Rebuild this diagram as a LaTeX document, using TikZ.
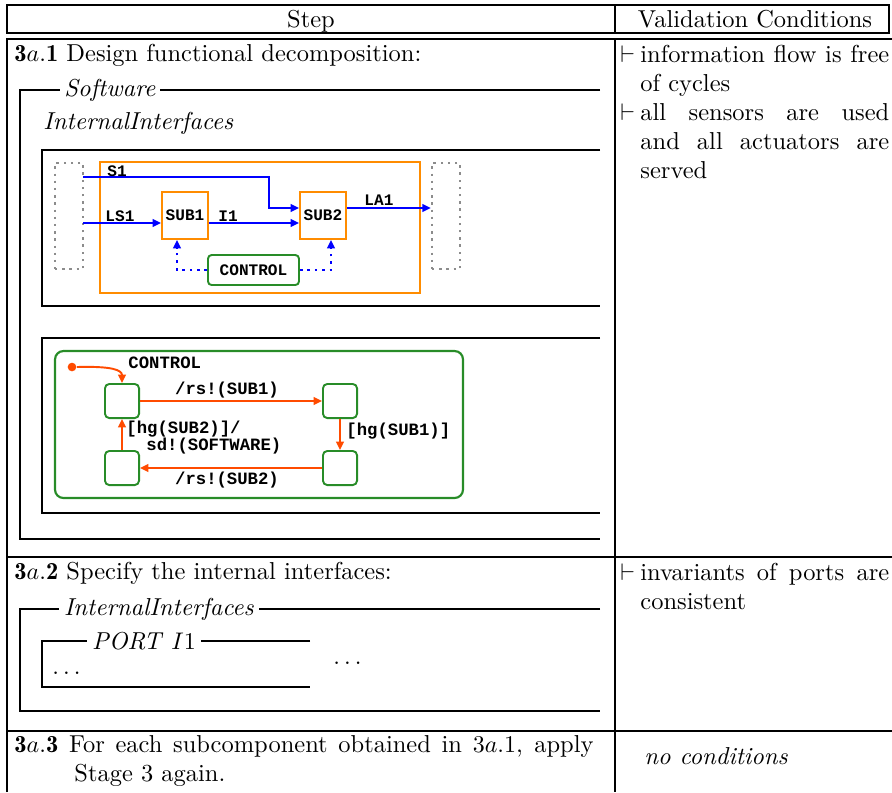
\documentclass[tikz,border=0pt]{standalone}
\usepackage{fontspec}
\newfontfamily\codefont{Liberation Mono}
\usetikzlibrary{arrows.meta, calc}
\definecolor{flowblue}{RGB}{0,0,255}
\definecolor{suborange}{RGB}{255,140,0}
\definecolor{ctrlgreen}{RGB}{40,140,40}
\definecolor{transred}{RGB}{255,75,0}
\definecolor{envgray}{RGB}{140,140,140}

\newcommand{\stepno}[1]{$\mathbf{3}a\mathbf{.#1}$}
\newcommand{\cond}[1]{\hangindent=8.3pt\hangafter=1\noindent\makebox[8.3pt][l]{$\vdash$}#1\par}

\begin{document}
\begin{tikzpicture}[x=0.4167pt, y=-0.4167pt,
    font=\fontsize{10.2}{12.1}\selectfont,
    >={Triangle[length=3.5pt, width=3.2pt]},
    rule/.style={line width=1.1pt},
    schema/.style={line width=0.85pt},
    schemalabel/.style={fill=white, inner xsep=2pt, inner ysep=1pt},
    txt/.style={inner sep=0pt, anchor=base west},
    condbox/.style={inner sep=0pt, anchor=north west, text width=112pt, align=justify},
    code/.style={inner sep=0pt, font=\codefont\bfseries\fontsize{6.7}{7}\selectfont},
    sccode/.style={inner sep=0pt, font=\codefont\bfseries\fontsize{7.2}{7.2}\selectfont},
    subbox/.style={draw=suborange, line width=0.8pt, minimum width=19.2pt,
                   minimum height=19.6pt, inner sep=0pt},
    env/.style={draw=envgray, dotted, line width=1pt, minimum width=11.7pt,
                minimum height=44.2pt},
    ctrlbox/.style={draw=ctrlgreen, line width=0.8pt, rounded corners=1.5pt,
                    minimum width=37.9pt, minimum height=12.5pt, inner sep=0pt},
    state/.style={draw=ctrlgreen, line width=0.8pt, rounded corners=1.8pt,
                  minimum size=14.2pt, inner sep=0pt},
    flow/.style={->, flowblue, line width=0.8pt},
    ctrlflow/.style={->, flowblue, dotted, line width=1.1pt},
    trans/.style={->, transred, line width=0.8pt}]

\useasboundingbox (0,0) rectangle (892,792);

% ════════════════════════════════════════
%  Table rules
% ════════════════════════════════════════

% Header
\draw[rule] (7,5) rectangle (889,33);
\draw[rule] (615,5) -- (615,33);
\node[anchor=base] (stephead) at (311,27) {Step};
\node[anchor=base] (valhead) at (755,27) {Validation Conditions};

% Body
\draw[rule] (7,792) -- (7,39) -- (892,39);
\draw[rule] (615,39) -- (615,792);
\draw[rule] (7,557) -- (892,557);
\draw[rule] (7,731) -- (892,731);

% ════════════════════════════════════════
%  Step 3a.1
% ════════════════════════════════════════

\node[txt] (step1) at (14,61) {\stepno{1} Design functional decomposition:};

% Software schema
\draw[schema] (600,90) -- (20,90) -- (20,539) -- (600,539);
\node[schemalabel] (swlabel) at (110,90) {\textit{Software}};
\node[txt] (intif) at (43,129) {\textit{InternalInterfaces}};

% Data flow box
\draw[schema] (600,150) -- (42,150) -- (42,306) -- (600,306);

\node[draw=suborange, line width=0.8pt, minimum width=133.3pt,
      minimum height=54.6pt] (swbox) at (260,227.5) {};
\node[env] (envL) at (69,216) {};
\node[env] (envR) at (446,216) {};

\node[subbox, code] (sub1) at (185,215.5) {SUB1};
\node[subbox, code] (sub2) at (323,215.5) {SUB2};
\node[ctrlbox, code] (control) at (253.5,270) {CONTROL};

\coordinate (s1in) at (83,177);
\coordinate (ls1in) at (83,223);
\coordinate (s1bend) at (269,208);

\draw[flow] (s1in) -| (s1bend) -- (sub2.west |- s1bend);
\draw[flow] (ls1in) -- (sub1.west |- ls1in);
\draw[flow] (sub1.east |- ls1in) -- (sub2.west |- ls1in);
\draw[flow] (sub2.east |- s1bend) -- (envR.west |- s1bend);

\node[code, anchor=base west] (s1lab) at (107,176) {S1};
\node[code, anchor=base west] (ls1lab) at (105,221) {LS1};
\node[code, anchor=base west] (i1lab) at (218,221) {I1};
\node[code, anchor=base west] (la1lab) at (364,205) {LA1};

% Control signals
\draw[ctrlflow] (control.west) -| ($(sub1.south)+(-8,0)$);
\draw[ctrlflow] (control.east) -| ($(sub2.south)+(8,0)$);

% Statechart box
\draw[schema] (600,338) -- (42,338) -- (42,513) -- (600,513);

\node[draw=ctrlgreen, line width=0.9pt, rounded corners=3.5pt, minimum width=170pt,
      minimum height=61.25pt] (ctrlchart) at (259,424.5) {};
\node[sccode, anchor=base west] (chartname) at (128,368) {CONTROL};

\node[state] (st1) at (122,401) {};
\node[state] (st2) at (340,401) {};
\node[state] (st3) at (340,468) {};
\node[state] (st4) at (122,468) {};
\node[circle, fill=transred, inner sep=0pt, minimum size=3.6pt] (init) at (72,367) {};

\draw[trans] (init.east) .. controls (112,366) and (122,370) .. (st1.north);
\draw[trans] (st1) -- (st2);
\draw[trans] (st2) -- (st3);
\draw[trans] (st3) -- (st4);
\draw[trans] (st4) -- (st1);

\node[sccode, anchor=base] (rs1lab) at (227,394) {/rs!(SUB1)};
\node[sccode, anchor=base west] (hg1lab) at (346,435) {[hg(SUB1)]};
\node[sccode, anchor=base] (rs2lab) at (227,484) {/rs!(SUB2)};
\node[sccode, anchor=base west] (hg2lab) at (126,433) {[hg(SUB2)]/};
\node[sccode, anchor=base west] (sdlab) at (146,450) {sd!(SOFTWARE)};

% Conditions
\node[condbox] (cond1) at (620,44.3)
    {\cond{information flow is free of cycles}%
     \cond{all sensors are used\linebreak and all actuators are\linebreak served}};

% ════════════════════════════════════════
%  Step 3a.2
% ════════════════════════════════════════

\node[txt] (step2) at (14,579) {\stepno{2} Specify the internal interfaces:};

% InternalInterfaces schema
\draw[schema] (600,609) -- (20,609) -- (20,711) -- (600,711);
\node[schemalabel] (iilabel) at (159,609) {\textit{InternalInterfaces}};

% Port schema
\draw[schema] (310,641) -- (42,641) -- (42,687) -- (310,687);
\node[schemalabel] (portlabel) at (144,641) {\textit{PORT} $I1$};
\node[txt] (portdots) at (52,674) {$\ldots$};
\node[txt] (moredots) at (333,664) {$\ldots$};

\node[condbox] (cond2) at (620,562.3) {\cond{invariants of ports are consistent}};

% ════════════════════════════════════════
%  Step 3a.3
% ════════════════════════════════════════

\node[condbox, text width=241.3pt] (step3) at (14,735.3)
    {\hangindent=25pt\hangafter=1\stepno{3} For each subcomponent obtained in $3a.1$,
     apply\linebreak Stage 3 again.\par};
\node[txt] (cond3) at (644,764) {\textit{no conditions}};

\end{tikzpicture}
\end{document}
